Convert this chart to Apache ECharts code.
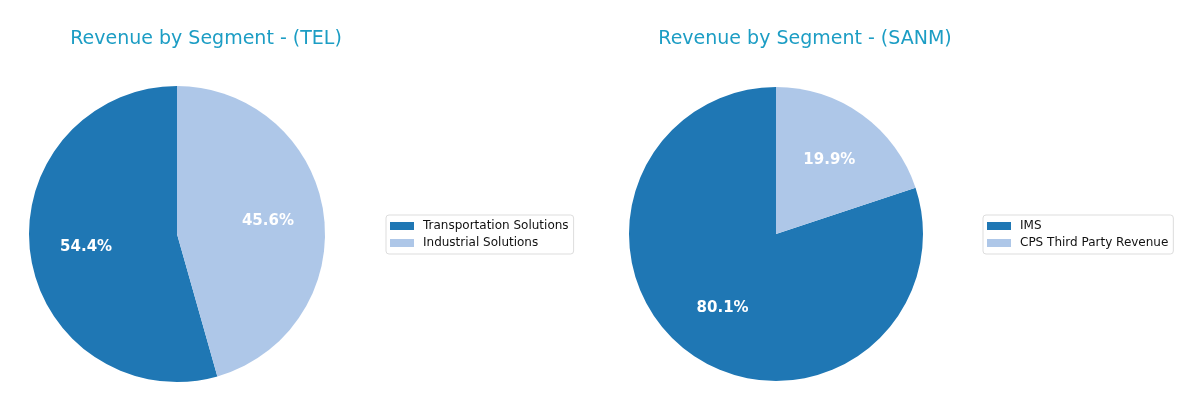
<!DOCTYPE html>
<html>
<head>
<meta charset="utf-8">
<script src="https://cdn.jsdelivr.net/npm/echarts@6/dist/echarts.min.js"></script>
<style>
  html, body { margin: 0; padding: 0; background: #fff; }
  #main { width: 1200px; height: 412px; }
</style>
</head>
<body>
<div id="main"></div>
<script>
// segment shares (percent of revenue)
var telSegments = ['Transportation Solutions', 'Industrial Solutions'];
var telValues = [54.4, 45.6];
var sanmSegments = ['IMS', 'CPS Third Party Revenue'];
var sanmValues = [80.1, 19.9];
var colors = ['#1f77b4', '#aec7e8'];

function pieData(names, values) {
  return names.map(function (n, i) {
    return { name: n, value: values[i], itemStyle: { color: colors[i] } };
  });
}

function pctLabel(p) {
  return p.percent.toFixed(1) + '%';
}

// visible pie, no labels
function piePart(names, values, center, r) {
  return {
    type: 'pie',
    center: center,
    radius: r,
    startAngle: 90,
    clockwise: false,
    label: { show: false },
    labelLine: { show: false },
    emphasis: { disabled: true },
    data: pieData(names, values)
  };
}

// transparent bigger pie so 'inside' labels sit at 0.6 of the real radius
function labelPart(names, values, center, r) {
  return {
    type: 'pie',
    center: center,
    radius: r * 1.2,
    startAngle: 90,
    clockwise: false,
    silent: true,
    z: 3,
    itemStyle: { color: 'rgba(0,0,0,0)' },
    label: {
      show: true,
      position: 'inside',
      formatter: pctLabel,
      color: '#fff',
      fontWeight: 'bold',
      fontSize: 15,
      fontFamily: 'DejaVu Sans'
    },
    labelLine: { show: false },
    emphasis: { disabled: true },
    data: names.map(function (n, i) { return { name: n, value: values[i] }; })
  };
}

function legendFor(names, left) {
  return {
    data: names,
    orient: 'vertical',
    left: left,
    top: 215,
    icon: 'rect',
    itemWidth: 24,
    itemHeight: 8,
    itemGap: 3,
    padding: [4, 5, 4, 4],
    backgroundColor: '#fff',
    borderColor: '#dddddd',
    borderWidth: 1,
    borderRadius: 3,
    selectedMode: false,
    textStyle: {
      fontFamily: 'DejaVu Sans',
      fontSize: 12,
      color: '#111',
      lineHeight: 14,
      padding: [0, 0, 0, 4]
    }
  };
}

var chart = echarts.init(document.getElementById('main'));
chart.setOption({
  animation: false,
  backgroundColor: '#fff',
  title: [
    {
      text: 'Revenue by Segment - (TEL)',
      left: 201, top: 25, textAlign: 'center',
      textStyle: { fontFamily: 'DejaVu Sans', fontSize: 19, fontWeight: 'normal', color: '#1c9dc4' }
    },
    {
      text: 'Revenue by Segment - (SANM)',
      left: 800, top: 25, textAlign: 'center',
      textStyle: { fontFamily: 'DejaVu Sans', fontSize: 19, fontWeight: 'normal', color: '#1c9dc4' }
    }
  ],
  legend: [legendFor(telSegments, 386), legendFor(sanmSegments, 983)],
  series: [
    piePart(telSegments, telValues, [177, 234], 148),
    piePart(sanmSegments, sanmValues, [776, 234], 147),
    labelPart(telSegments, telValues, [177, 234], 148),
    labelPart(sanmSegments, sanmValues, [776, 234], 147)
  ]
});
</script>
</body>
</html>
